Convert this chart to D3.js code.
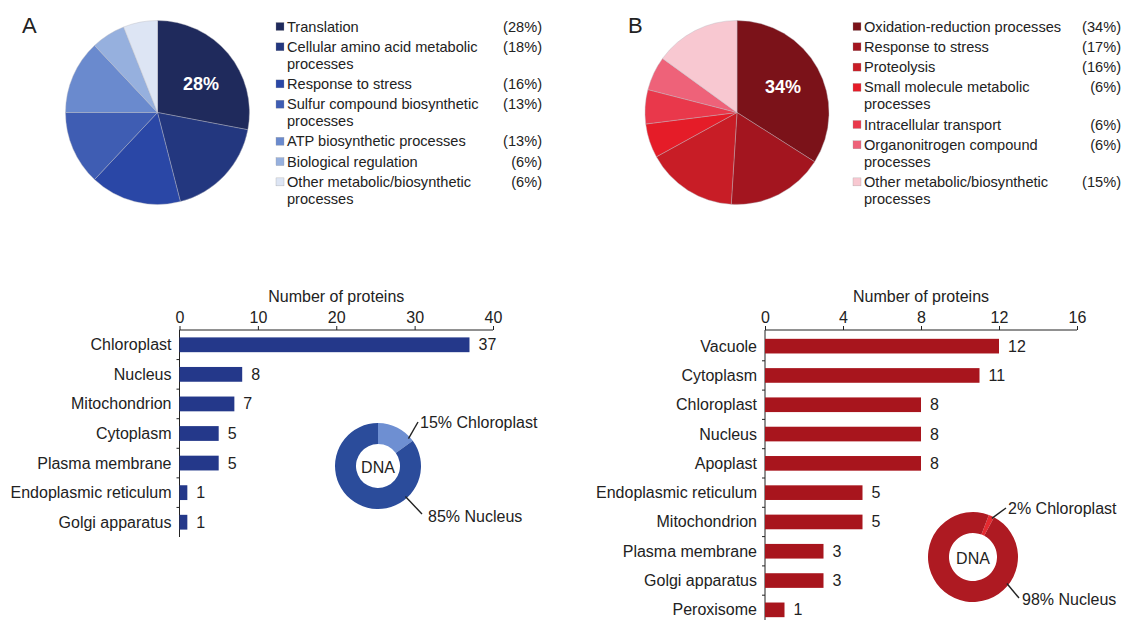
<!DOCTYPE html>
<html>
<head>
<meta charset="utf-8">
<script src="https://cdn.jsdelivr.net/npm/d3@7"></script>
<style>
  html, body { margin: 0; padding: 0; background: #fff; }
  svg { display: block; font-family: "Liberation Sans", Arial, sans-serif; }
</style>
</head>
<body>
<svg id="fig" width="1123" height="620"></svg>
<script>
// ---- Panel A: biological process (GO) shares ----
const processesA = ["Translation", "Cellular amino acid metabolic processes", "Response to stress",
  "Sulfur compound biosynthetic processes", "ATP biosynthetic processes", "Biological regulation",
  "Other metabolic/biosynthetic processes"];
const sharesA = [28, 18, 16, 13, 13, 6, 6];
const coloursA = ["#1f2a5c", "#23377f", "#2a47a6", "#3f5db3", "#6a8ace", "#96b0de", "#dde5f4"];

// ---- Panel B: biological process (GO) shares ----
const processesB = ["Oxidation-reduction processes", "Response to stress", "Proteolysis",
  "Small molecule metabolic processes", "Intracellular transport", "Organonitrogen compound processes",
  "Other metabolic/biosynthetic processes"];
const sharesB = [34, 17, 16, 6, 6, 6, 15];
const coloursB = ["#7b1219", "#a3151f", "#c81d26", "#e51c28", "#e9384b", "#ee6279", "#f8c8d1"];

// ---- Subcellular localisation counts ----
const locationsA = ["Chloroplast", "Nucleus", "Mitochondrion", "Cytoplasm", "Plasma membrane",
  "Endoplasmic reticulum", "Golgi apparatus"];
const countsA = [37, 8, 7, 5, 5, 1, 1];
const ticksA = [0, 10, 20, 30, 40];

const locationsB = ["Vacuole", "Cytoplasm", "Chloroplast", "Nucleus", "Apoplast",
  "Endoplasmic reticulum", "Mitochondrion", "Plasma membrane", "Golgi apparatus", "Peroxisome"];
const countsB = [12, 11, 8, 8, 8, 5, 5, 3, 3, 1];
const ticksB = [0, 4, 8, 12, 16];

// ---- DNA origin of the encoding genes ----
const dnaSources = ["Chloroplast", "Nucleus"];
const dnaA = [15, 85];
const dnaB = [2, 98];

const svg = d3.select("#fig");
const INK = "#222";

// panel letters
svg.append("text").attr("x", 22).attr("y", 33).attr("font-size", 22).attr("fill", INK).text("A");
svg.append("text").attr("x", 628).attr("y", 33).attr("font-size", 22).attr("fill", INK).text("B");

function wrapWords(text, maxW, probe) {
  const words = text.split(" ");
  const lines = [];
  let cur = "";
  words.forEach(w => {
    const trial = cur ? cur + " " + w : w;
    probe.text(trial);
    if (cur && probe.node().getComputedTextLength() > maxW) { lines.push(cur); cur = w; }
    else cur = trial;
  });
  if (cur) lines.push(cur);
  return lines;
}

function drawPie(cfg) {
  const g = svg.append("g").attr("transform", `translate(${cfg.cx},${cfg.cy})`);
  const pie = d3.pie().sort(null).value(d => d.v);
  const arc = d3.arc().innerRadius(0).outerRadius(cfg.r);
  const arcs = pie(cfg.names.map((n, i) => ({ n, v: cfg.values[i], c: cfg.colours[i] })));
  g.selectAll("path").data(arcs).join("path")
    .attr("d", arc).attr("fill", d => d.data.c)
    .attr("stroke", "#b8b8c0").attr("stroke-width", 0.4);
  // highlight label for the leading slice
  const lab = d3.arc().innerRadius(cfg.r * 0.57).outerRadius(cfg.r * 0.57).centroid(arcs[0]);
  g.append("text").attr("x", lab[0] + cfg.labNudge[0]).attr("y", lab[1] + cfg.labNudge[1])
    .attr("text-anchor", "middle").attr("dominant-baseline", "central")
    .attr("font-size", 18).attr("font-weight", "bold").attr("fill", "#fff")
    .text(cfg.values[0] + "%");

  // legend
  const lg = svg.append("g").attr("font-size", 14.6).attr("fill", INK);
  const probe = lg.append("text").attr("visibility", "hidden");
  let y = cfg.legendY;
  cfg.names.forEach((n, i) => {
    const lines = wrapWords(n, cfg.wrapW, probe);
    lg.append("rect").attr("x", cfg.legendX).attr("y", y - 4).attr("width", 8).attr("height", 8)
      .attr("fill", cfg.colours[i]).attr("stroke", "#999").attr("stroke-width", 0.3);
    const t = lg.append("text").attr("x", cfg.legendX + 11).attr("y", y)
      .attr("dominant-baseline", "central");
    lines.forEach((ln, k) => t.append("tspan").attr("x", cfg.legendX + 11)
      .attr("y", y + k * 16.8).text(ln));
    lg.append("text").attr("x", cfg.pctX).attr("y", y).attr("text-anchor", "end")
      .attr("dominant-baseline", "central").text("(" + cfg.values[i] + "%)");
    y += 20.3 + (lines.length - 1) * 16.8;
  });
  probe.remove();
}

drawPie({ cx: 157.5, cy: 112.5, r: 92, names: processesA, values: sharesA, colours: coloursA,
  legendX: 276, legendY: 26.5, wrapW: 205, pctX: 542, labNudge: [3, 5] });
drawPie({ cx: 737, cy: 112.5, r: 92, names: processesB, values: sharesB, colours: coloursB,
  legendX: 853, legendY: 26.5, wrapW: 215, pctX: 1121, labNudge: [0, 0] });

function drawBars(cfg) {
  const g = svg.append("g");
  const x = d3.scaleLinear().domain([0, cfg.ticks[cfg.ticks.length - 1]]).range([cfg.x0, cfg.x1]);
  const y = d3.scaleBand().domain(cfg.names).range([cfg.y0, cfg.y1]).paddingInner(0.5).paddingOuter(0.25);

  const ax = g.append("g").attr("transform", `translate(0,${cfg.axisY})`)
    .call(d3.axisTop(x).tickValues(cfg.ticks).tickSize(4).tickPadding(3));
  ax.select(".domain").attr("stroke", INK).attr("d", `M${cfg.x0},0H${cfg.x1}`);
  ax.selectAll(".tick line").attr("stroke", INK);
  ax.selectAll(".tick text").attr("font-size", 16).attr("font-family", "Liberation Sans, Arial, sans-serif").attr("fill", INK);

  g.append("text").attr("x", (cfg.x0 + cfg.x1) / 2).attr("y", cfg.axisY - 28)
    .attr("text-anchor", "middle").attr("font-size", 16).attr("fill", INK).text("Number of proteins");

  // vertical axis with ticks between categories
  g.append("line").attr("x1", cfg.x0).attr("x2", cfg.x0).attr("y1", cfg.axisY).attr("y2", cfg.y1)
    .attr("stroke", INK);
  const step = y.step();
  cfg.names.slice(1).forEach(n => {
    const yy = y(n) - step * 0.25;
    g.append("line").attr("x1", cfg.x0 - 3).attr("x2", cfg.x0).attr("y1", yy).attr("y2", yy).attr("stroke", INK);
  });

  g.selectAll("rect.bar").data(cfg.values).join("rect").attr("class", "bar")
    .attr("x", x(0)).attr("y", (d, i) => y(cfg.names[i]))
    .attr("width", d => x(d) - x(0)).attr("height", y.bandwidth())
    .attr("fill", cfg.colour);

  g.selectAll("text.val").data(cfg.values).join("text").attr("class", "val")
    .attr("x", d => x(d) + 9).attr("y", (d, i) => y(cfg.names[i]) + y.bandwidth() / 2)
    .attr("dominant-baseline", "central").attr("font-size", 16).attr("fill", INK).text(d => d);

  g.selectAll("text.cat").data(cfg.names).join("text").attr("class", "cat")
    .attr("x", cfg.x0 - 8).attr("y", d => y(d) + y.bandwidth() / 2)
    .attr("text-anchor", "end").attr("dominant-baseline", "central")
    .attr("font-size", 16).attr("fill", INK).text(d => d);
}

drawBars({ names: locationsA, values: countsA, ticks: ticksA, x0: 179.5, x1: 493,
  axisY: 330, y0: 330, y1: 537, colour: "#24388a" });
drawBars({ names: locationsB, values: countsB, ticks: ticksB, x0: 765, x1: 1077,
  axisY: 330, y0: 331.5, y1: 624.5, colour: "#a8151d" });

function drawDonut(cfg) {
  const g = svg.append("g").attr("transform", `translate(${cfg.cx},${cfg.cy})`);
  const pie = d3.pie().sort(null).startAngle(cfg.start).endAngle(cfg.start + 2 * Math.PI);
  const arc = d3.arc().innerRadius(cfg.ri).outerRadius(cfg.ro);
  const arcs = pie(cfg.values);
  g.selectAll("path").data(arcs).join("path").attr("d", arc).attr("fill", (d, i) => cfg.colours[i]);
  g.append("text").attr("text-anchor", "middle").attr("dominant-baseline", "central")
    .attr("font-size", 16).attr("fill", INK).attr("y", 1).text("DNA");
  cfg.labels.forEach((L, i) => {
    const a = L.angle * Math.PI / 180;
    const p0 = [Math.sin(a) * (cfg.ro - 2), -Math.cos(a) * (cfg.ro - 2)];
    g.append("line").attr("x1", p0[0]).attr("y1", p0[1]).attr("x2", L.lx).attr("y2", L.ly)
      .attr("stroke", INK).attr("stroke-width", 1.4);
    g.append("text").attr("x", L.tx).attr("y", L.ty).attr("dominant-baseline", "central")
      .attr("font-size", 16).attr("fill", INK)
      .text(cfg.values[i] + "% " + dnaSources[i]);
  });
}

drawDonut({ cx: 378, cy: 466, ro: 43, ri: 22, values: dnaA, start: 0,
  colours: ["#6e8fd2", "#2b4c9b"],
  labels: [{ angle: 48, lx: 40, ly: -44, tx: 42, ty: -44 }, { angle: 138, lx: 44, ly: 48, tx: 50, ty: 50 }] });
drawDonut({ cx: 973, cy: 557, ro: 45, ri: 24, values: dnaB, start: 0.36,
  colours: ["#e52a30", "#ae1a22"],
  labels: [{ angle: 26, lx: 33, ly: -49, tx: 35, ty: -49 }, { angle: 128, lx: 46, ly: 41, tx: 49, ty: 42 }] });
</script>
</body>
</html>
